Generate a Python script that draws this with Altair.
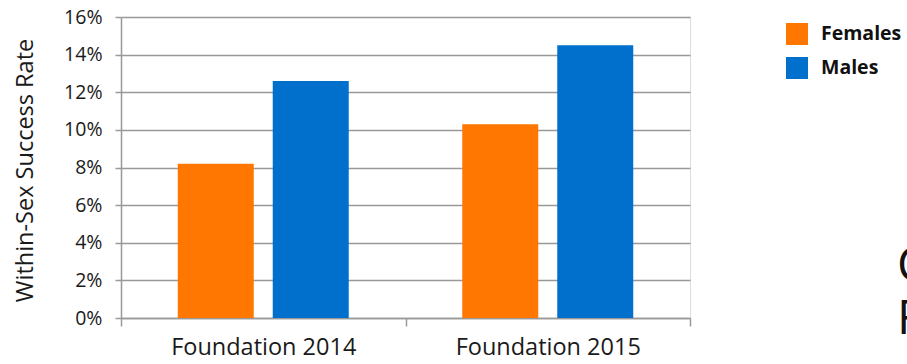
import altair as alt
import pandas as pd

categories = ["Foundation 2014", "Foundation 2015"]
sexes = ["Females", "Males"]
females = [0.082, 0.103]
males = [0.126, 0.145]
y_ticks = [0, 0.02, 0.04, 0.06, 0.08, 0.10, 0.12, 0.14, 0.16]
side_text = ["C", "F"]
colors = ["#FF7700", "#0070CC"]

rows = []
for c, f, m in zip(categories, females, males):
    rows.append({"group": c, "sex": "Females", "rate": f})
    rows.append({"group": c, "sex": "Males", "rate": m})
df = pd.DataFrame(rows)

FONT = "Open Sans"
GRID = "#999999"

bars = alt.Chart(df).mark_bar().encode(
    x=alt.X(
        "group:N",
        sort=categories,
        scale=alt.Scale(paddingInner=0, paddingOuter=0),
        axis=alt.Axis(
            title=None, tickBand="extent", labelAngle=0, grid=False,
            labelFont=FONT, labelFontSize=23.5, labelColor="#1a1a1a",
            labelLimit=400,
            tickSize=8, tickColor=GRID, tickWidth=1.5,
            domainColor=GRID, domainWidth=1.5, labelPadding=9,
        ),
    ),
    xOffset=alt.XOffset(
        "sex:N", sort=sexes,
        scale=alt.Scale(paddingInner=0.2, paddingOuter=0.5975),
    ),
    y=alt.Y(
        "rate:Q",
        scale=alt.Scale(domain=[0, 0.16], nice=False),
        axis=alt.Axis(
            values=y_ticks, format="%", title="Within-Sex Success Rate",
            titleFont=FONT, titleFontSize=23.5, titleFontWeight="normal",
            titleColor="#1a1a1a", titleX=-96, titleY=153,
            titleAlign="center", titleBaseline="middle",
            labelFont=FONT, labelFontSize=19.5, labelColor="#1a1a1a",
            labelPadding=13, tickSize=6, tickColor=GRID, tickWidth=1.5,
            domainColor=GRID, domainWidth=1.5,
            grid=True, gridColor=GRID, gridWidth=1.5,
        ),
    ),
    color=alt.Color(
        "sex:N",
        scale=alt.Scale(domain=sexes, range=colors),
        legend=alt.Legend(
            title=None, orient="none", legendX=665, legendY=6,
            symbolType="square", symbolSize=484, symbolStrokeWidth=0,
            symbolOpacity=1,
            labelFont=FONT, labelFontSize=19.5, labelFontWeight="bold",
            labelColor="#111111", labelOffset=13, rowPadding=12, padding=0,
        ),
    ),
)

t1 = alt.Chart(pd.DataFrame({"t": [side_text[0]]})).mark_text(
    align="left", baseline="alphabetic", font=FONT, fontSize=48, color="#111111"
).encode(text="t:N", x=alt.value(776), y=alt.value(264))

t2 = alt.Chart(pd.DataFrame({"t": [side_text[1]]})).mark_text(
    align="left", baseline="alphabetic", font=FONT, fontSize=48, color="#111111"
).encode(text="t:N", x=alt.value(776), y=alt.value(317))

chart = alt.layer(bars, t1, t2).properties(
    width=569, height=301,
    padding={"left": 121, "top": 17, "right": 217, "bottom": 46},
    autosize=alt.AutoSizeParams(type="none"),
).configure_view(stroke=None).configure(background="white")

chart.save("out.html", embed_options={"renderer": "svg", "actions": False})
